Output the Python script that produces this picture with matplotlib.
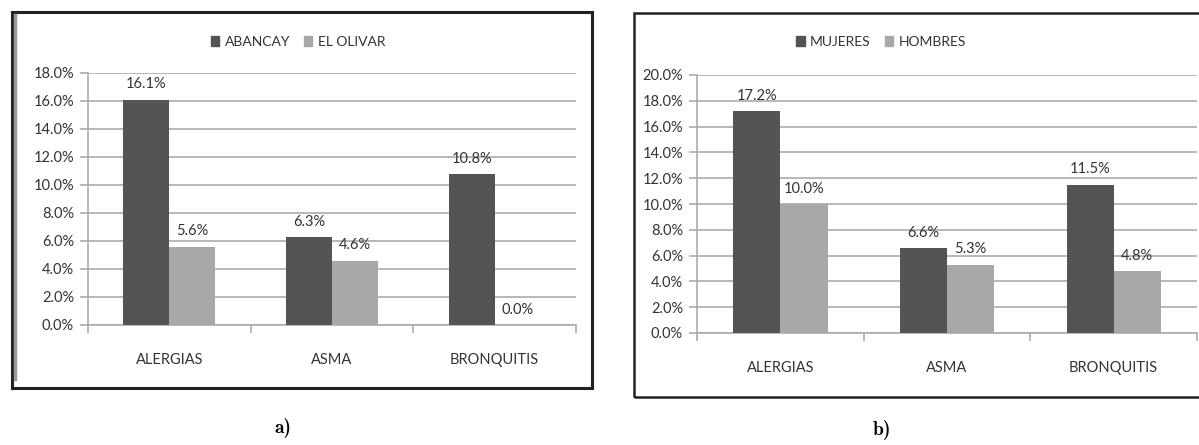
import os
import matplotlib
matplotlib.use("Agg")
import matplotlib.pyplot as plt
from matplotlib.patches import Rectangle, Patch
from matplotlib.ticker import FuncFormatter, FixedLocator
from matplotlib.font_manager import FontProperties
import numpy as np

plt.rcParams['font.family'] = ['Lato', 'DejaVu Sans']

categories = ['ALERGIAS', 'ASMA', 'BRONQUITIS']

abancay = [16.1, 6.3, 10.8]
el_olivar = [5.6, 4.6, 0.0]

mujeres = [17.2, 6.6, 11.5]
hombres = [10.0, 5.3, 4.8]

DARK = '#545456'
LIGHT = '#a7a8aa'
GRID = '#acacac'
TEXT = '#333333'

W, H = 1199, 445
fig = plt.figure(figsize=(W / 100, H / 100), dpi=100)

# bold Computer Modern shipped with matplotlib, for the panel captions
cm_bold = FontProperties(fname=os.path.join(matplotlib.get_data_path(), 'fonts', 'ttf', 'cmb10.ttf'),
                         size=14)


def px_axes(left, top, right, bottom):
    return fig.add_axes([left / W, 1 - bottom / H, (right - left) / W, (bottom - top) / H])


def draw_panel(ax, s1, s2, names, ymax, legend_x):
    x = np.arange(len(categories))
    w = 0.283
    b1 = ax.bar(x - w / 2, s1, w, color=DARK, label=names[0], zorder=3)
    b2 = ax.bar(x + w / 2, s2, w, color=LIGHT, label=names[1], zorder=3)
    for bars, vals in ((b1, s1), (b2, s2)):
        for rect, v in zip(bars, vals):
            ax.annotate(f'{v:.1f}%', (rect.get_x() + rect.get_width() / 2, v),
                        xytext=(0, 11), textcoords='offset points',
                        ha='center', va='center', fontsize=10.5, color=TEXT)

    ax.set_xlim(-0.5, len(categories) - 0.5)
    ax.set_ylim(0, ymax)
    ax.set_yticks(np.arange(0, ymax + 0.01, 2))
    ax.yaxis.set_major_formatter(FuncFormatter(lambda v, _: f'{v:.1f}%'))
    ax.yaxis.grid(True, color=GRID, linewidth=1.2, zorder=0)

    ax.xaxis.set_major_locator(FixedLocator([-0.5, 0.5, 1.5, 2.5]))
    ax.set_xticklabels([])
    ax.xaxis.set_minor_locator(FixedLocator(x))
    ax.set_xticklabels(categories, minor=True)
    ax.tick_params(axis='x', which='major', length=6, color=GRID, width=1.2)
    ax.tick_params(axis='x', which='minor', length=0, pad=20, labelsize=10.5, labelcolor=TEXT)
    ax.tick_params(axis='y', length=6, color=GRID, width=1.2, labelsize=10.5,
                   labelcolor=TEXT, pad=4)

    for side in ('top', 'right'):
        ax.spines[side].set_visible(False)
    for side in ('left', 'bottom'):
        ax.spines[side].set_color(GRID)
        ax.spines[side].set_linewidth(1.2)

    fig.legend(handles=[Patch(color=DARK, label=names[0]), Patch(color=LIGHT, label=names[1])],
               loc='center', bbox_to_anchor=(legend_x / W, 1 - 42 / H), ncol=2,
               frameon=False, handlelength=0.6, handleheight=0.7, handletextpad=0.4,
               columnspacing=1.0, fontsize=10, labelcolor=TEXT)


ax_a = px_axes(88, 73, 576, 325)
draw_panel(ax_a, abancay, el_olivar, ['ABANCAY', 'EL OLIVAR'], 18, 298)

ax_b = px_axes(697, 75, 1197, 333)
draw_panel(ax_b, mujeres, hombres, ['MUJERES', 'HOMBRES'], 20, 881)

# panel frames
fig.add_artist(Rectangle((11.5 / W, 1 - 388 / H), (592 - 11.5) / W, (388 - 11.5) / H,
                         transform=fig.transFigure, fill=False, edgecolor='#222222',
                         linewidth=2.2))
fig.add_artist(plt.Line2D([14.5 / W, 14.5 / W], [1 - 15 / H, 1 - 379 / H],
                          transform=fig.transFigure, color='#999999', linewidth=2.5))
fig.add_artist(Rectangle((633.5 / W, 1 - 397 / H), (1210 - 633.5) / W, (397 - 12.5) / H,
                         transform=fig.transFigure, fill=False, edgecolor='#222222',
                         linewidth=1.8, clip_on=False))

fig.text(283 / W, 1 - 428 / H, 'a)', ha='center', va='center', fontproperties=cm_bold)
fig.text(882 / W, 1 - 430 / H, 'b)', ha='center', va='center', fontproperties=cm_bold)

fig.savefig('out.png', dpi=100)
